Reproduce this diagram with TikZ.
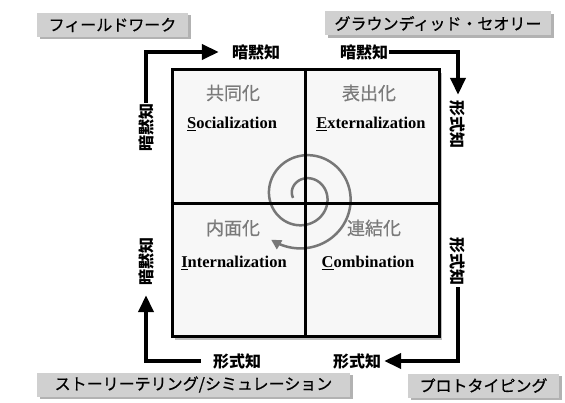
\documentclass[tikz,border=0pt]{standalone}
\usepackage{fontspec}
\setmainfont{Liberation Serif}
\newfontfamily\jp{Noto Sans CJK JP}
\newfontfamily\jpm[FakeBold=0.6]{Noto Sans CJK JP}
\usetikzlibrary{arrows.meta,shadows}
\definecolor{boxgray}{HTML}{D0D0D0}
\definecolor{quadgray}{HTML}{7A7A7A}
\definecolor{spiralgray}{HTML}{777777}
\definecolor{panelfill}{HTML}{F7F7F7}
\begin{document}
\begin{tikzpicture}[x=1pt,y=-1pt,
  tag/.style={fill=boxgray, inner sep=0pt, minimum height=24pt,
    font=\jpm\fontsize{16}{18}\selectfont,
    drop shadow={shadow xshift=2.5pt,shadow yshift=-2.5pt,fill=black,opacity=0.3}},
  klabel/.style={font=\jp\bfseries\fontsize{16}{18}\selectfont, inner sep=1pt},
  flow/.style={line width=4pt, -{Triangle[length=17pt,width=15pt]}},
  quadjp/.style={font=\jpm\fontsize{18}{20}\selectfont, text=quadgray},
  quaden/.style={font=\bfseries\fontsize{16.5}{19}\selectfont},
  spiralline/.style={draw=spiralgray, line width=2.5pt, -{Triangle[length=10pt,width=10pt]}}
]
\useasboundingbox (0,0) rectangle (565,403);

% label boxes
\node[tag, minimum width=151pt] (fw) at (112.5,25) {フィールドワーク};
\node[tag, minimum width=226pt] (gt) at (438,23.5) {グラウンディッド・セオリー};
\node[tag, minimum width=313pt] (st) at (193.5,384.5) {ストーリーテリング/シミュレーション};
\node[tag, minimum width=151pt] (pt) at (483.5,385.5) {プロトタイピング};

% main grid
\node[draw=black, line width=3pt, fill=panelfill, minimum size=267pt, inner sep=0pt,
  drop shadow={shadow xshift=3pt,shadow yshift=-3pt,fill=black,opacity=0.25}] (grid) at (305.5,203.5) {};

% spiral
\draw[spiralline] plot[domain=170:847, samples=220, variable=\t]
  ({304+(11+0.0645*(\t-170))*cos(\t)}, {196+(11+0.0645*(\t-170))*sin(\t)});

\draw[line width=3pt] (grid.north) -- (grid.south);
\draw[line width=3pt] (grid.west) -- (grid.east);

% quadrant texts
\node[quadjp] (soj) at (233,93) {共同化};
\node[quaden] (soe) at (232,124) {\underline{S}ocialization};
\node[quadjp] (exj) at (369,93) {表出化};
\node[quaden] (exe) at (371,124) {\underline{E}xternalization};
\node[quadjp] (inj) at (233,228) {内面化};
\node[quaden] (ine) at (234,263) {\underline{I}nternalization};
\node[quadjp] (coj) at (374,228) {連結化};
\node[quaden] (coe) at (368,263) {\underline{C}ombination};

% knowledge labels
\node[klabel, rotate=90] (tlv) at (146,128) {暗黙知};
\node[klabel] (tlh) at (256,52) {暗黙知};
\node[klabel] (trh) at (364,52) {暗黙知};
\node[klabel, rotate=-90] (trv) at (458,125) {形式知};
\node[klabel, rotate=-90] (brv) at (458,262) {形式知};
\node[klabel] (brh) at (357,361) {形式知};
\node[klabel] (blh) at (237,361) {形式知};
\node[klabel, rotate=90] (blv) at (146,262) {暗黙知};

% flows
\draw[flow, shorten >=12pt] (tlv.east) |- (tlh.west);
\draw[flow, shorten >=5pt] (trh.east) -| (trv.west);
\draw[flow, shorten >=2pt] (brv.east) |- (brh.east);
\draw[flow, shorten <=11pt, shorten >=8pt] (blh.west) -| (blv.west);
\end{tikzpicture}
\end{document}
